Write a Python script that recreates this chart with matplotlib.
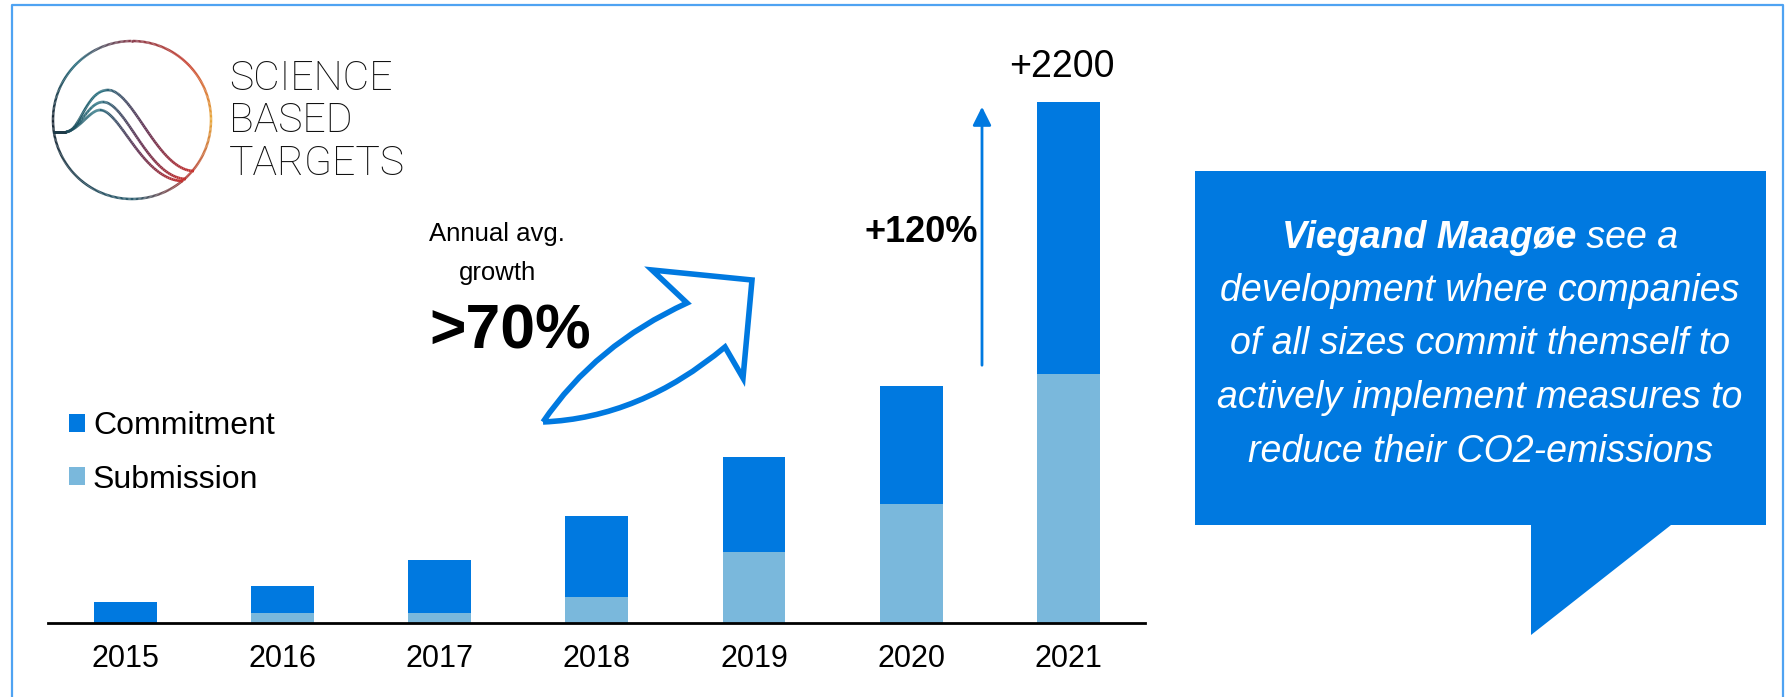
import numpy as np
import matplotlib.pyplot as plt
from matplotlib.path import Path
from matplotlib.patches import PathPatch, Polygon
from matplotlib.collections import LineCollection
from matplotlib.colors import LinearSegmentedColormap

plt.rcParams["font.family"] = ["Liberation Sans", "DejaVu Sans"]

# data
years = ["2015", "2016", "2017", "2018", "2019", "2020", "2021"]
submission = [0, 40, 40, 108, 300, 500, 1050]
commitment = [89, 116, 226, 342, 400, 499, 1150]
growth_label = ">70%"
jump_label = "+120%"
top_label = "+2200"

BLUE = "#0079E0"
LIGHT = "#7AB8DC"

W, H = 1787, 697
fig = plt.figure(figsize=(W / 100, H / 100), dpi=100)
fig.patch.set_facecolor("white")

# bar chart
ax = fig.add_axes([47.7 / W, 1 - 622.7 / H, (1145 - 47.7) / W, (622.7 - 20) / H])
x = np.arange(len(years))
ax.bar(x, submission, width=0.4, color=LIGHT, label="Submission")
ax.bar(x, commitment, width=0.4, bottom=submission, color=BLUE, label="Commitment")
ax.set_xlim(-0.495, 6.488)
ax.set_ylim(0, 2548)
ax.set_xticks(x)
ax.set_xticklabels(years, fontsize=22)
ax.tick_params(axis="x", length=0, pad=15)
ax.set_yticks([])
for s in ["left", "right", "top"]:
    ax.spines[s].set_visible(False)
ax.spines["bottom"].set_linewidth(2)
ax.spines["bottom"].set_color("black")
ax.patch.set_alpha(0)

handles, labels = ax.get_legend_handles_labels()
ax.legend(handles[::-1], labels[::-1], loc="center left",
          bbox_to_anchor=(69 / W, 1 - 453 / H), bbox_transform=fig.transFigure,
          frameon=False, fontsize=23, handlelength=0.5, handleheight=0.5,
          handletextpad=0.25, labelspacing=0.72, borderpad=0, borderaxespad=0)

total_2021 = submission[-1] + commitment[-1]
ax.text(x[-1] - 0.04, total_2021 + 75, top_label, ha="center", va="bottom", fontsize=27)

# overlay in pixel coords for decorations
ov = fig.add_axes([0, 0, 1, 1], zorder=5)
ov.set_xlim(0, W)
ov.set_ylim(H, 0)
ov.axis("off")

# frame
ov.plot([12, 12, 1783, 1783], [H + 5, 5, 5, H + 5], color="#4FA3F2", lw=1.6)

# logo circle with colour gradient
dx, dy = 8, 5
cx, cy, r = 124 + dx, 115 + dy, 79
th = np.linspace(-90, 270, 400)
px = cx + r * np.cos(np.radians(th))
py = cy - r * np.sin(np.radians(th))
pts = np.column_stack([px, py]).reshape(-1, 1, 2)
segs = np.concatenate([pts[:-1], pts[1:]], axis=1)
ring_cmap = LinearSegmentedColormap.from_list("ring", [
    (0.0, "#2A5C6E"), (0.125, "#B5403A"), (0.25, "#E8A83A"), (0.375, "#C8402F"),
    (0.5, "#8A3A4A"), (0.625, "#236B7C"), (0.75, "#1A2633"), (1.0, "#2A5C6E")])
lc = LineCollection(segs, cmap=ring_cmap, linewidths=1.8)
lc.set_array((th[:-1] + 90) / 360)
ov.add_collection(lc)


def bez(p0, p1, p2, p3, n=60):
    t = np.linspace(0, 1, n)[:, None]
    return ((1 - t) ** 3 * np.array(p0) + 3 * (1 - t) ** 2 * t * np.array(p1)
            + 3 * (1 - t) * t ** 2 * np.array(p2) + t ** 3 * np.array(p3))


wave_cmap = LinearSegmentedColormap.from_list("wave", ["#1E3A48", "#1E6B7B", "#6A3A5A", "#C8322F"])
waves = [
    [(58, 127), (72, 127), (78, 85), (100, 85), (125, 85), (150, 166), (186, 166)],
    [(58, 127), (72, 125), (80, 97), (95, 97), (118, 97), (140, 173), (178, 174)],
    [(58, 127), (72, 124), (82, 105), (92, 105), (112, 105), (135, 176), (175, 176)],
]
for w in waves:
    c = np.vstack([[(45, 127)], bez(*w[:4]), bez(*w[3:])]) + np.array([dx, dy])
    p = c.reshape(-1, 1, 2)
    sg = np.concatenate([p[:-1], p[1:]], axis=1)
    wl = LineCollection(sg, cmap=wave_cmap, linewidths=1.9)
    wl.set_array((c[:-1, 0] - 45 - dx) / 140)
    ov.add_collection(wl)

for txt, yb in zip(["SCIENCE", "BASED", "TARGETS"], [90, 132, 175]):
    ov.text(229, yb, txt, fontsize=29.5, family=["Roboto", "DejaVu Sans"],
            fontweight="light", color="#111111", va="baseline", ha="left")

# growth annotation
ov.text(497, 234, "Annual avg.", fontsize=18.5, ha="center", va="center")
ov.text(497, 273, "growth", fontsize=18.5, ha="center", va="center")
ov.text(510, 332, growth_label, fontsize=45, fontweight="bold", ha="center", va="center")

# curved outline arrow
verts = [(543, 422), (640, 418), (725, 347), (743, 378), (752, 280),
         (652, 270), (687, 303), (595, 345), (543, 422)]
codes = [Path.MOVETO, Path.CURVE3, Path.CURVE3, Path.LINETO, Path.LINETO,
         Path.LINETO, Path.LINETO, Path.CURVE3, Path.CURVE3]
ov.add_patch(PathPatch(Path(verts, codes), facecolor="white", edgecolor=BLUE,
                       lw=4, joinstyle="miter"))

# vertical +120% arrow
ov.annotate("", xy=(982, 104), xytext=(982, 368),
            arrowprops=dict(arrowstyle="-|>", color=BLUE, lw=2, mutation_scale=28))
ov.text(921, 233, jump_label, fontsize=26, fontweight="bold", ha="center", va="center")

# speech bubble
ov.add_patch(Polygon([(1195, 171), (1766, 171), (1766, 525), (1671, 525),
                      (1531, 635), (1531, 525), (1195, 525)],
                     closed=True, facecolor=BLUE, edgecolor="none"))
bx = 1480
lines = ["development where companies", "of all sizes commit themself to",
         "actively implement measures to", "reduce their CO2-emissions"]
for ln, yy in zip(lines, [291, 344.5, 398, 452]):
    ov.text(bx, yy, ln, fontsize=27, style="italic", color="white",
            ha="center", va="center")
t1 = ov.text(bx, 238, "Viegand Maagøe", fontsize=27, style="italic",
             fontweight="bold", color="white", ha="left", va="center")
t2 = ov.text(bx, 238, " see a", fontsize=27, style="italic", color="white",
             ha="left", va="center")
fig.canvas.draw()
inv = ov.transData.inverted()
e1 = t1.get_window_extent()
e2 = t2.get_window_extent()
w1 = inv.transform((e1.x1, 0))[0] - inv.transform((e1.x0, 0))[0]
w2 = inv.transform((e2.x1, 0))[0] - inv.transform((e2.x0, 0))[0]
start = bx - (w1 + w2) / 2
t1.set_x(start)
t2.set_x(start + w1)

fig.savefig("out.png", dpi=100)
